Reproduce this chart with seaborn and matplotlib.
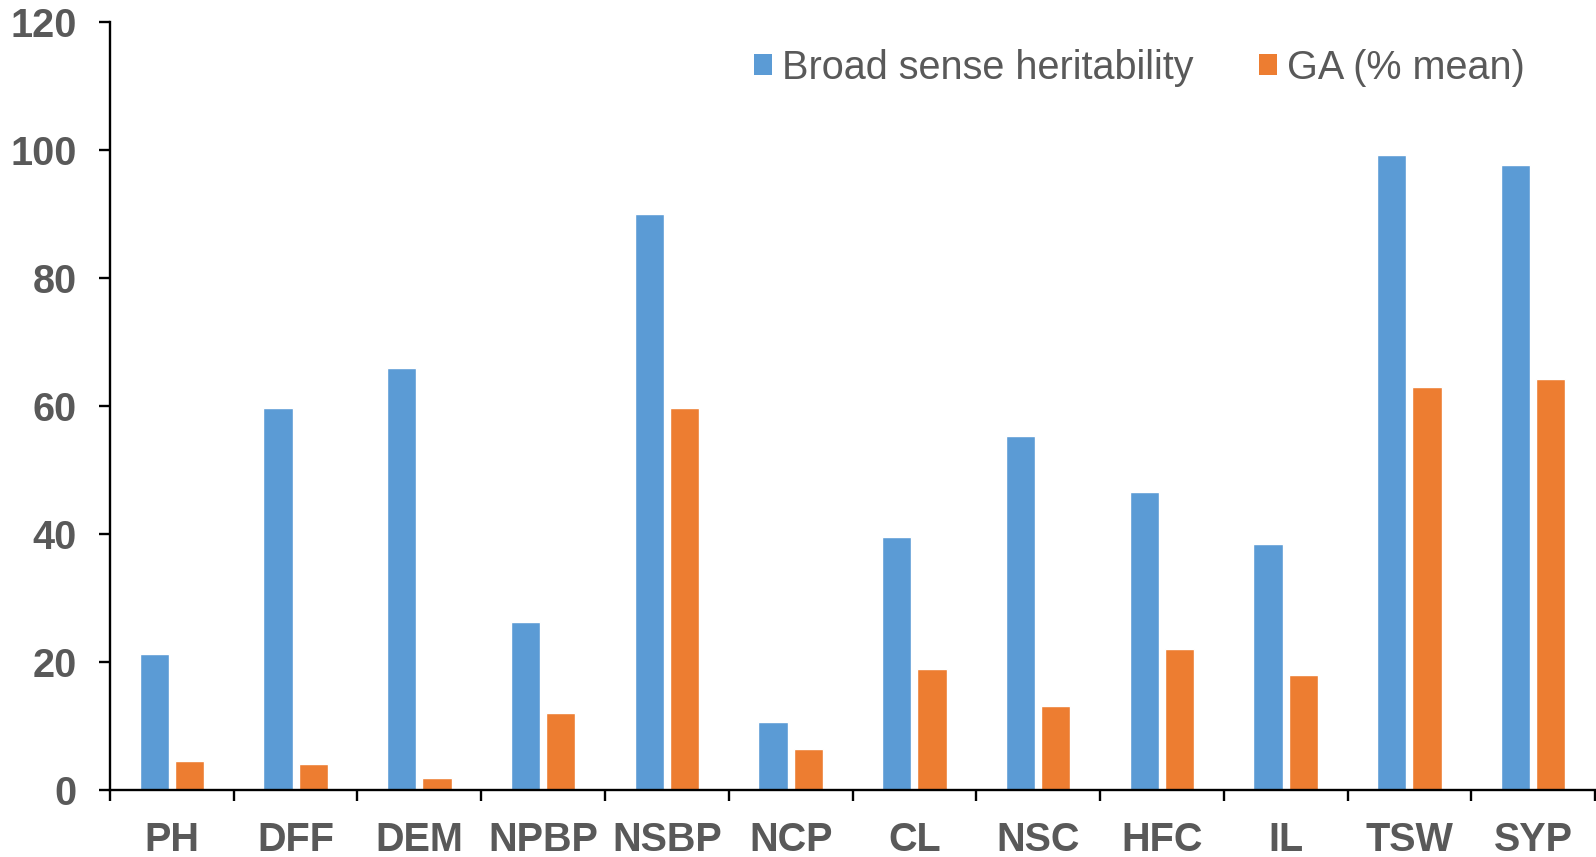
import matplotlib
matplotlib.use("Agg")
import matplotlib.pyplot as plt
import matplotlib.patches as mpatches
import seaborn as sns
import pandas as pd

# Trait abbreviations and the two series plotted for each trait
traits = ["PH", "DFF", "DEM", "NPBP", "NSBP", "NCP", "CL", "NSC", "HFC", "IL", "TSW", "SYP"]
heritability = [21.2, 59.7, 65.9, 26.3, 90.1, 10.7, 39.6, 55.4, 46.6, 38.5, 99.2, 97.7]
genetic_advance = [4.6, 4.0, 1.9, 12.1, 59.7, 6.4, 18.9, 13.1, 22.0, 18.0, 63.0, 64.3]
series_names = ["Broad sense heritability", "GA (% mean)"]
y_ticks = [0, 20, 40, 60, 80, 100, 120]

BLUE = "#5B9BD5"
ORANGE = "#ED7D31"
GREY = "#595959"

df = pd.DataFrame({
    "trait": traits * 2,
    "value": heritability + genetic_advance,
    "series": [series_names[0]] * len(traits) + [series_names[1]] * len(traits),
})

sns.set_theme(style="white")
plt.rcParams["font.family"] = ["Liberation Sans", "DejaVu Sans"]

fig = plt.figure(figsize=(15.96, 8.57), dpi=100)
ax = fig.add_axes([0.0689, 0.0782, 0.9305, 0.8957])

sns.barplot(data=df, x="trait", y="value", hue="series", order=traits,
            hue_order=series_names, palette=[BLUE, ORANGE], saturation=1,
            width=0.57, gap=0.175, legend=False, ax=ax)

ax.set_xlim(-0.5, len(traits) - 0.5)
ax.set_ylim(0, 120)
ax.set_xlabel("")
ax.set_ylabel("")

# Axis spines: only left and bottom, solid black
for side in ("top", "right"):
    ax.spines[side].set_visible(False)
for side in ("left", "bottom"):
    ax.spines[side].set_color("black")
    ax.spines[side].set_linewidth(1.7)

# y ticks
ax.set_yticks(y_ticks)
ax.set_yticklabels([str(v) for v in y_ticks], fontsize=28.5, fontweight="bold", color=GREY)
ax.tick_params(axis="y", which="major", direction="out", length=8, width=1.7,
               color="black", pad=16, left=True)

# x: labels centred under each group, tick marks on the group boundaries
ax.set_xticks(range(len(traits)))
ax.set_xticklabels(traits, fontsize=28.5, fontweight="bold", color=GREY)
ax.tick_params(axis="x", which="major", length=0, pad=22, bottom=True)
ax.set_xticks([i - 0.5 for i in range(len(traits) + 1)], minor=True)
ax.tick_params(axis="x", which="minor", direction="out", length=8, width=1.7,
               color="black", bottom=True)

handles = [mpatches.Patch(facecolor=BLUE, edgecolor="none", label=series_names[0]),
           mpatches.Patch(facecolor=ORANGE, edgecolor="none", label=series_names[1])]
leg = ax.legend(handles=handles, loc="center", bbox_to_anchor=(0.693, 0.941), ncol=2,
                frameon=False, fontsize=28.5, handlelength=0.46, handleheight=0.46,
                handletextpad=0.25, columnspacing=1.65)
for t in leg.get_texts():
    t.set_color(GREY)

fig.savefig("out.png", dpi=100)
